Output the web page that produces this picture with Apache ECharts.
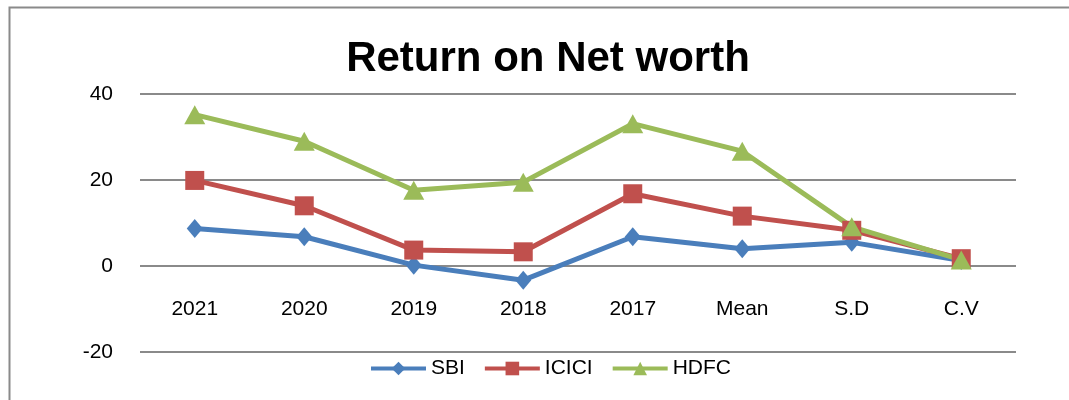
<!DOCTYPE html>
<html>
<head>
<meta charset="utf-8">
<script src="https://cdn.jsdelivr.net/npm/echarts@6/dist/echarts.min.js"></script>
<style>
  html, body { margin: 0; padding: 0; background: #fff; }
  #chart { width: 1069px; height: 400px; }
</style>
</head>
<body>
<div id="chart"></div>
<script>
// categories and series
var categories = ['2021', '2020', '2019', '2018', '2017', 'Mean', 'S.D', 'C.V'];
var sbi   = [8.7, 6.8, 0.2, -3.3, 6.8, 4.0, 5.5, 1.3];
var icici = [19.9, 14.0, 3.7, 3.3, 16.8, 11.6, 8.3, 1.7];
var hdfc  = [35.2, 29.0, 17.6, 19.5, 33.1, 26.7, 9.1, 1.4];
var yTicks = { min: -20, max: 40, interval: 20 };

var font = '"Liberation Sans", Arial, sans-serif';

var myChart = echarts.init(document.getElementById('chart'));

function lineSeries(name, data, color, symbol, size) {
  return {
    name: name,
    type: 'line',
    data: data,
    symbol: symbol,
    symbolSize: size,
    lineStyle: { color: color, width: 5 },
    itemStyle: { color: color },
    animation: false
  };
}

var option = {
  backgroundColor: '#fff',
  title: {
    text: 'Return on Net worth',
    left: 543,
    textAlign: 'center',
    top: 33,
    textStyle: { fontFamily: font, fontSize: 42, fontWeight: 'bold', color: '#000' }
  },
  // chart frame, like the spreadsheet border
  graphic: [{
    type: 'rect',
    shape: { x: 9.5, y: 7.5, width: 1100, height: 420 },
    style: { fill: 'none', stroke: '#8a8a8a', lineWidth: 2 },
    silent: true
  }],
  legend: {
    bottom: 16,
    left: 364,
    itemWidth: 55,
    itemHeight: 17,
    itemGap: 18,
    lineStyle: { width: 4 },
    textStyle: { fontFamily: font, fontSize: 21, color: '#000' },
    data: ['SBI', 'ICICI', 'HDFC']
  },
  grid: { left: 140, right: 53, top: 94, bottom: 48 },
  xAxis: {
    type: 'category',
    data: categories,
    boundaryGap: true,
    axisLine: { show: false },
    axisTick: { show: false },
    // labels sit just under the zero line, as in the spreadsheet
    axisLabel: { margin: -53, fontFamily: font, fontSize: 21, color: '#000' }
  },
  yAxis: {
    type: 'value',
    min: yTicks.min,
    max: yTicks.max,
    interval: yTicks.interval,
    axisLine: { show: false },
    axisTick: { show: false },
    splitLine: { lineStyle: { color: '#8a8a8a', width: 2 } },
    axisLabel: { margin: 27, fontFamily: font, fontSize: 21, color: '#000' }
  },
  series: [
    lineSeries('SBI', sbi, '#4a7ebb', 'diamond', [16, 19]),
    lineSeries('ICICI', icici, '#c0504d', 'rect', 19),
    lineSeries('HDFC', hdfc, '#9bbb59', 'triangle', [21, 19])
  ]
};

myChart.setOption(option);
</script>
</body>
</html>
